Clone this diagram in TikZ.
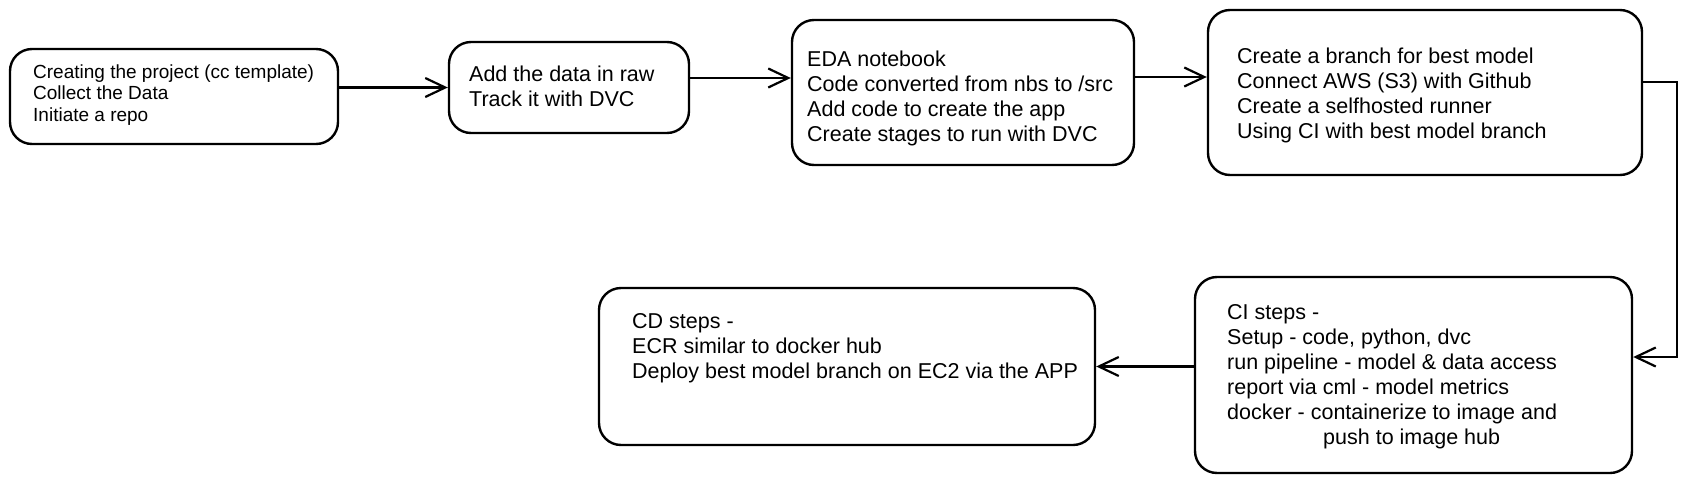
\documentclass[tikz,border=0pt]{standalone}
\usepackage{fontspec}
\setmainfont{Liberation Sans}
\usetikzlibrary{arrows.meta}

\begin{document}
\begin{tikzpicture}[x=1pt, y=-1pt,
    box/.style={draw, line width=2.4pt, rounded corners=22pt, inner sep=0pt},
    txt/.style={anchor=west, align=left, inner sep=0pt, font=\fontsize{21.5}{25}\selectfont},
    small/.style={txt, font=\fontsize{19}{21.5}\selectfont},
    arr/.style={line width=2.2pt, -{Straight Barb[length=20pt, width=19pt]}}]
    \useasboundingbox (0,0) rectangle (1687,485);

    % Boxes
    \node[box, minimum width=328pt, minimum height=95pt] (create) at (174,96.5) {};
    \node[box, minimum width=240pt, minimum height=91pt] (data) at (569,87.5) {};
    \node[box, minimum width=342pt, minimum height=145pt] (eda) at (963,92.5) {};
    \node[box, minimum width=434pt, minimum height=165pt] (branch) at (1425,92.5) {};
    \node[box, minimum width=437pt, minimum height=196pt] (ci) at (1413.5,375) {};
    \node[box, minimum width=496pt, minimum height=157pt] (cd) at (847,366.5) {};

    % Texts
    \node[small] (createtext) at (33,95) {Creating the project (cc template)\\Collect the Data\\Initiate a repo};
    \node[txt] (datatext) at (469,86.5) {Add the data in raw\\Track it with DVC};
    \node[txt] (edatext) at (807,98.5) {EDA notebook\\Code converted from nbs to /src\\Add code to create the app\\Create stages to run with DVC};
    \node[txt] (branchtext) at (1237,95) {Create a branch for best model\\Connect AWS (S3) with Github\\Create a selfhosted runner\\Using CI with best model branch};
    \node[txt] (citext) at (1227,376.5) {CI steps -\\Setup - code, python, dvc\\run pipeline - model \& data access\\report via cml - model metrics\\docker - containerize to image and\\\hspace*{96pt}push to image hub};
    \node[txt] (cdtext) at (632,348.5) {CD steps -\\ECR similar to docker hub\\Deploy best model branch on EC2 via the APP};

    % Arrows
    \coordinate (bend) at (1677,82);
    \draw[arr] (create.east |- data.west) -- (data.west);
    \draw[arr] ([yshift=9.5pt]data.east) -- ([yshift=9.5pt]data.east -| eda.west);
    \draw[arr] ([yshift=15.5pt]eda.east) -- ([yshift=15.5pt]eda.east -| branch.west);
    \draw[arr] ([yshift=10.5pt]branch.east) -- (bend) |- ([yshift=18pt]ci.east);
    \draw[arr] (ci.west |- cd.east) -- (cd.east);
\end{tikzpicture}
\end{document}
